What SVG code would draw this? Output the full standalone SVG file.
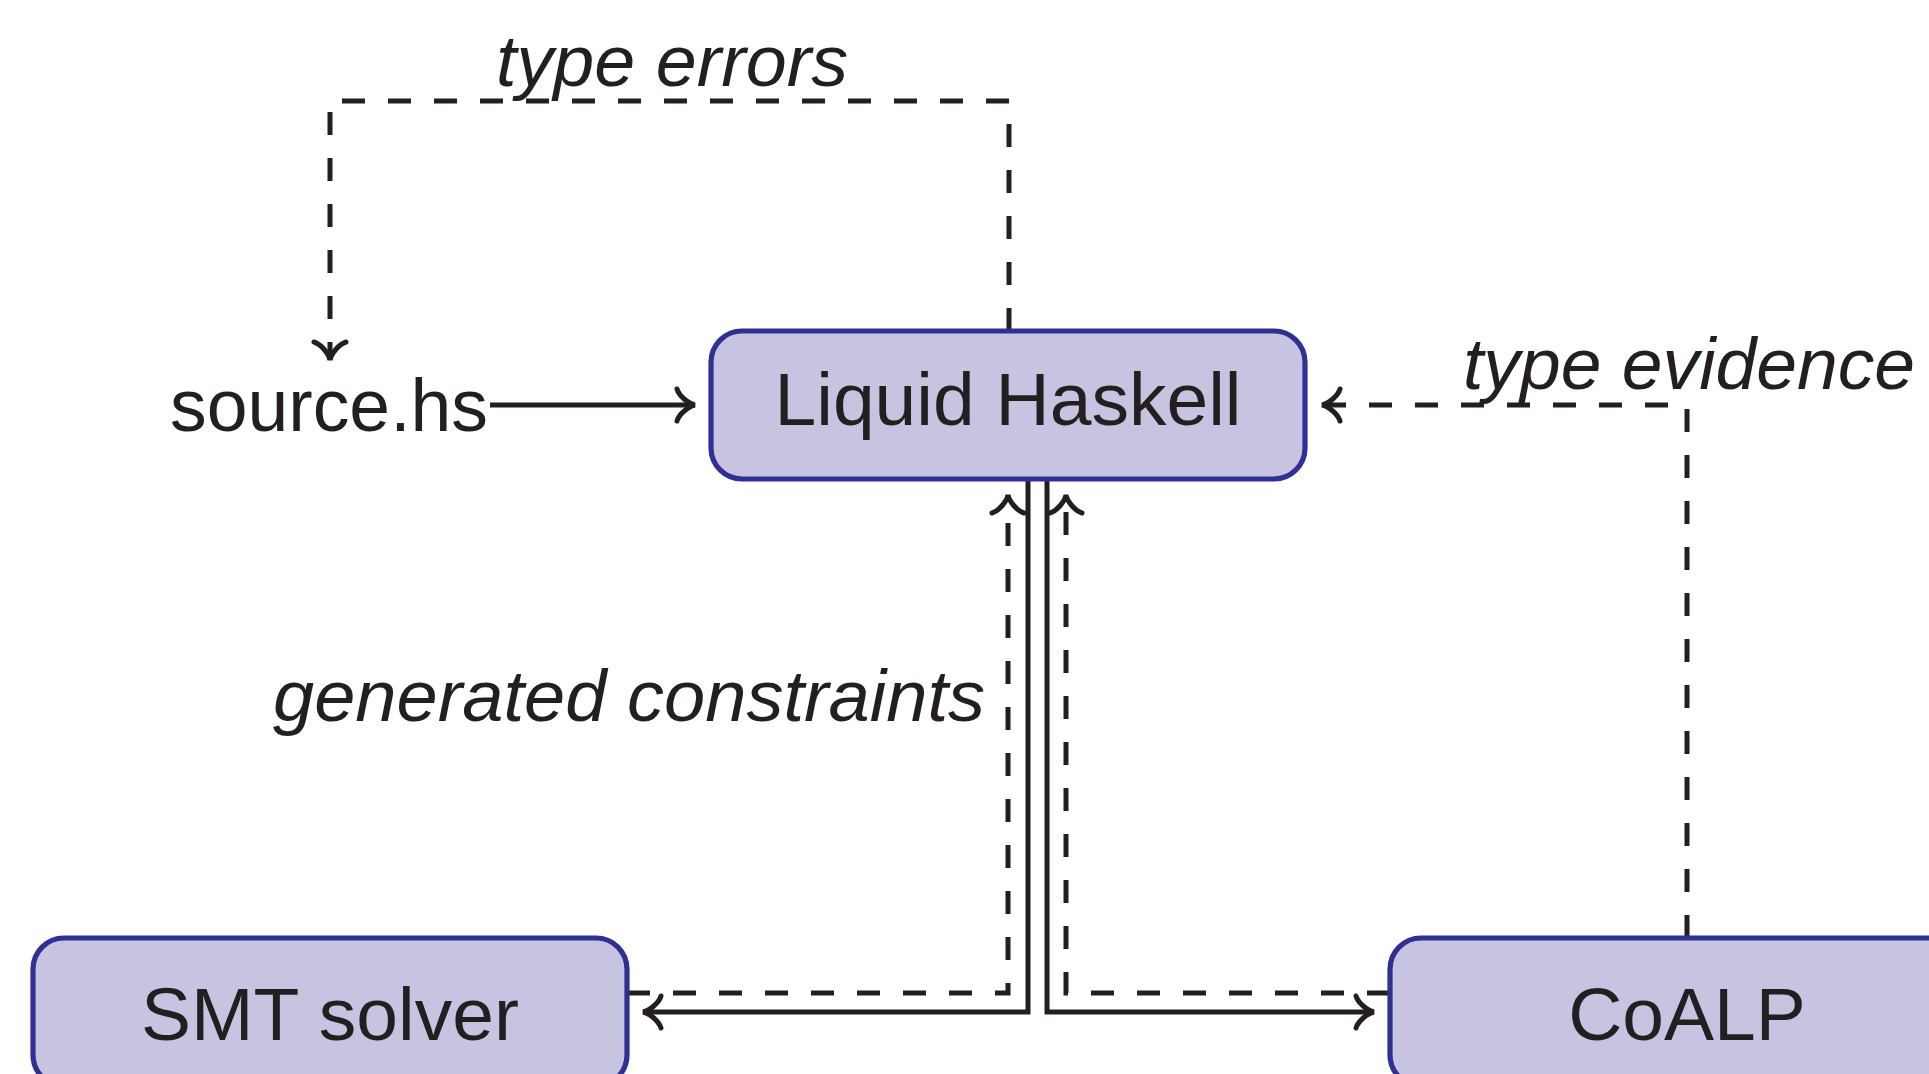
<svg xmlns="http://www.w3.org/2000/svg" width="1929" height="1074" viewBox="0 0 1929 1074">
  <style>
    .box { fill: #c6c4e1; stroke: #2e3192; stroke-width: 5.2; }
    .lbl { font-family: "Liberation Sans", Arial, sans-serif; font-size: 75px; fill: #231f20; }
    .it { font-family: "Liberation Sans", Arial, sans-serif; font-size: 72px; font-style: italic; fill: #231f20; }
    .ln { fill: none; stroke: #231f20; stroke-width: 5; }
    .dash { stroke-dasharray: 23 23; }
  </style>
  <defs>
    <marker id="arr" markerUnits="userSpaceOnUse" markerWidth="44" markerHeight="44" viewBox="-22 -22 44 44" refX="0" refY="0" orient="auto" overflow="visible">
      <path d="M -18,-16 C -16,-9 -6,-1 0,0 C -6,1 -16,9 -18,16" fill="none" stroke="#231f20" stroke-width="5" stroke-linecap="round" stroke-dasharray="none"/>
    </marker>
  </defs>
  <rect width="1929" height="1074" fill="#ffffff"/>
  <g id="connectors">
    <path class="ln dash" d="M 1009,331 V 101 H 330 V 360" marker-end="url(#arr)"/>
    <path class="ln" d="M 490,405 H 695" marker-end="url(#arr)"/>
    <path class="ln dash" d="M 1687,938 V 405 H 1322" marker-end="url(#arr)"/>
    <path class="ln" d="M 1028,479 V 1012 H 643" marker-end="url(#arr)"/>
    <path class="ln" d="M 1047,479 V 1012 H 1374" marker-end="url(#arr)"/>
    <path class="ln dash" d="M 627,993 H 1008 V 495" marker-end="url(#arr)"/>
    <path class="ln dash" d="M 1390,993 H 1066 V 495" marker-end="url(#arr)"/>
    <text class="it" x="496" y="86" textLength="352" lengthAdjust="spacingAndGlyphs">type errors</text>
    <text class="it" x="1463" y="389" textLength="452" lengthAdjust="spacingAndGlyphs">type evidence</text>
    <text class="it" x="273" y="721" textLength="712" lengthAdjust="spacingAndGlyphs">generated constraints</text>
  </g>
  <g id="source">
    <text class="lbl" x="170" y="431" textLength="318" lengthAdjust="spacingAndGlyphs">source.hs</text>
  </g>
  <g id="liquid-haskell">
    <rect class="box" x="711" y="331" width="594" height="148" rx="31" ry="31"/>
    <text class="lbl" x="1008" y="425" text-anchor="middle">Liquid Haskell</text>
  </g>
  <g id="smt-solver">
    <rect class="box" x="33" y="938" width="594" height="148" rx="31" ry="31"/>
    <text class="lbl" x="330" y="1040" text-anchor="middle">SMT solver</text>
  </g>
  <g id="coalp">
    <rect class="box" x="1390" y="938" width="594" height="148" rx="31" ry="31"/>
    <text class="lbl" x="1687" y="1040" text-anchor="middle">CoALP</text>
  </g>
</svg>
